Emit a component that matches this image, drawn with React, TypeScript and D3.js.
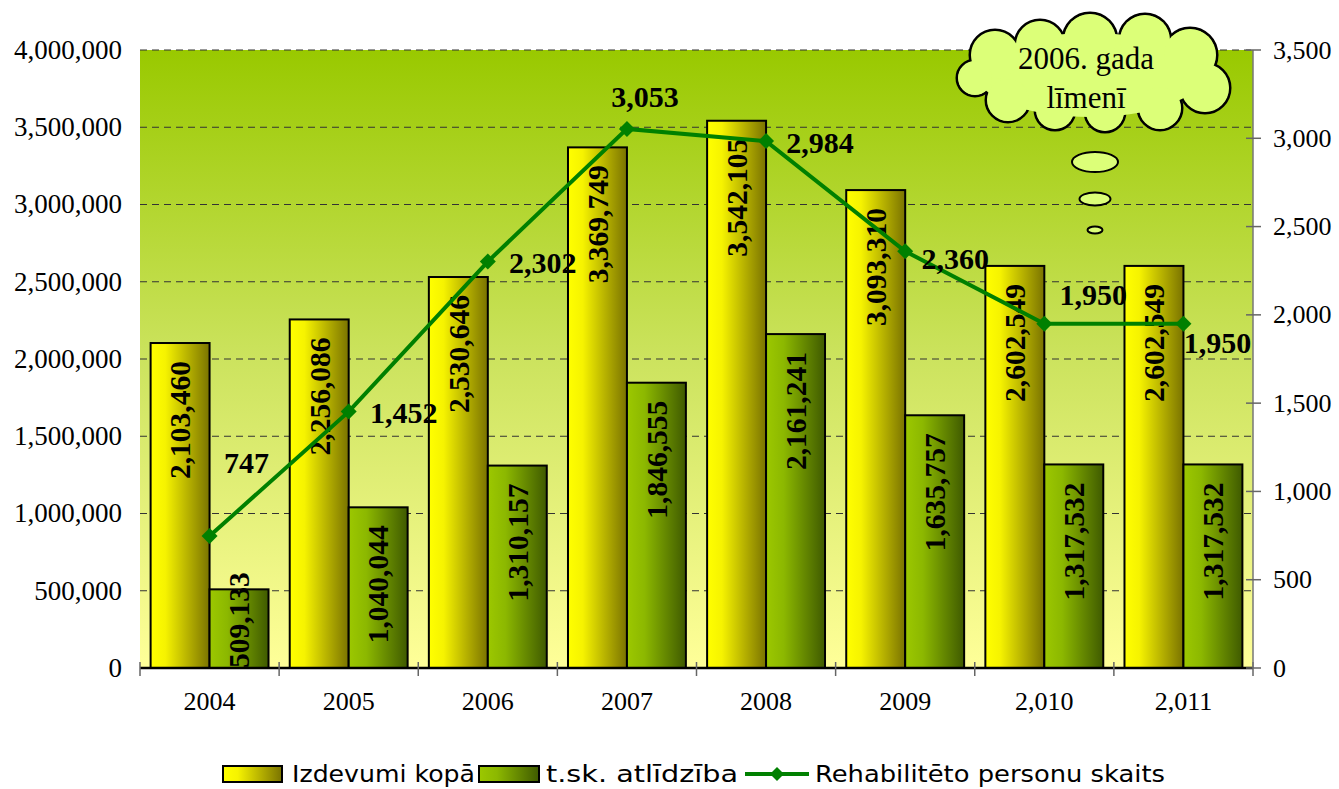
import React, { useEffect } from "react";
import * as d3 from "d3";

const years = ["2004", "2005", "2006", "2007", "2008", "2009", "2,010", "2,011"];
const izdevumi = [2103460, 2256086, 2530646, 3369749, 3542105, 3093310, 2602549, 2602549];
const atlidziba = [509133, 1040044, 1310157, 1846555, 2161241, 1635757, 1317532, 1317532];
const personas = [747, 1452, 2302, 3053, 2984, 2360, 1950, 1950];
const leftTicks = [0, 500000, 1000000, 1500000, 2000000, 2500000, 3000000, 3500000, 4000000];
const rightTicks = [0, 500, 1000, 1500, 2000, 2500, 3000, 3500];
const seriesNames = ["Izdevumi kopā", "t.sk. atlīdzība", "Rehabilitēto personu skaits"];
// label offsets relative to each line point (layout only)
const lineLabelOffsets: [number, number][] = [
  [37, -74], [55, 1], [55, 1], [18, -32], [54, 1], [50, 7], [49, -29], [34, 19],
];

const W = 1339, H = 789;
const M = { left: 140, right: 1253, top: 50, bottom: 668 };
const serif = "'Liberation Serif', 'Times New Roman', serif";
const sans = "'DejaVu Sans', sans-serif";

export default function App() {
  useEffect(() => {
    document.body.style.margin = "0";
  }, []);

  const x0 = d3.scaleBand<string>().domain(years).range([M.left, M.right]).padding(0);
  const x1 = d3.scaleBand<string>().domain(["a", "b"]).range([0, x0.bandwidth()]).paddingInner(0).paddingOuter(0.18);
  const yL = d3.scaleLinear().domain([0, 4000000]).range([M.bottom, M.top]);
  const yR = d3.scaleLinear().domain([0, 3500]).range([M.bottom, M.top]);
  const fmt = d3.format(",");

  const linePts: [number, number][] = personas.map((v, i) => [x0(years[i])! + x0.bandwidth() / 2, yR(v)]);
  const lineGen = d3.line();

  const barLabel = (v: number, xc: number, key: string) => {
    const top = yL(v);
    const len = 118;
    let anchorY = top + 18;
    let anchor: "end" | "start" = "end";
    if (anchorY + len > M.bottom) {
      anchorY = M.bottom;
      anchor = "start";
    }
    return (
      <text
        key={key}
        transform={`translate(${xc},${anchorY}) rotate(-90)`}
        textAnchor={anchor}
        dy="0.35em"
        fontFamily={serif}
        fontWeight="bold"
        fontSize={29.5}
        fill="#000"
      >
        {fmt(v)}
      </text>
    );
  };

  const cloudCircles: [number, number, number][] = [
    [995, 55, 25], [1040, 45, 25], [1090, 40, 27], [1145, 40, 26], [1190, 55, 27],
    [1205, 88, 25], [1160, 108, 22], [1105, 112, 20], [1055, 110, 20], [1008, 100, 22], [975, 78, 18],
  ];
  const cloudFill = "#dcff78";

  const diamond = (cx: number, cy: number, r: number) =>
    `M${cx},${cy - r}L${cx + r},${cy}L${cx},${cy + r}L${cx - r},${cy}Z`;

  return (
    <svg width={W} height={H} style={{ position: "absolute", left: 0, top: 0 }} xmlns="http://www.w3.org/2000/svg">
      <defs>
        <linearGradient id="bg" x1="0" y1="0" x2="0" y2="1">
          <stop offset="0" stopColor="#99c900" />
          <stop offset="0.5" stopColor="#cce35e" />
          <stop offset="1" stopColor="#ffff99" />
        </linearGradient>
        <linearGradient id="gy" x1="0" y1="0" x2="1" y2="0">
          <stop offset="0" stopColor="#ffff00" />
          <stop offset="0.25" stopColor="#f6f300" />
          <stop offset="1" stopColor="#7a7300" />
        </linearGradient>
        <linearGradient id="gg" x1="0" y1="0" x2="1" y2="0">
          <stop offset="0" stopColor="#9cc800" />
          <stop offset="0.3" stopColor="#8cb800" />
          <stop offset="1" stopColor="#3f5a00" />
        </linearGradient>
      </defs>
      <rect x={0} y={0} width={W} height={H} fill="#fff" />
      <rect x={M.left} y={M.top} width={M.right - M.left} height={M.bottom - M.top} fill="url(#bg)" />

      {/* gridlines */}
      {leftTicks.filter((t) => t > 0).map((t) => (
        <line key={t} x1={M.left} x2={M.right} y1={yL(t)} y2={yL(t)} stroke="#333" strokeWidth={1} strokeDasharray="7,5" />
      ))}

      {/* bars */}
      {years.map((yr, i) => {
        const gx = x0(yr)!;
        const xa = gx + x1("a")!;
        const xb = gx + x1("b")!;
        const bw = x1.bandwidth();
        return (
          <g key={yr}>
            <rect x={xa} y={yL(izdevumi[i])} width={bw} height={M.bottom - yL(izdevumi[i])} fill="url(#gy)" stroke="#000" strokeWidth={2} />
            <rect x={xb} y={yL(atlidziba[i])} width={bw} height={M.bottom - yL(atlidziba[i])} fill="url(#gg)" stroke="#000" strokeWidth={2} />
          </g>
        );
      })}
      {years.map((yr, i) => {
        const gx = x0(yr)!;
        const bw = x1.bandwidth();
        return (
          <g key={"l" + yr}>
            {barLabel(izdevumi[i], gx + x1("a")! + bw / 2, "a")}
            {barLabel(atlidziba[i], gx + x1("b")! + bw / 2, "b")}
          </g>
        );
      })}

      {/* bottom axis */}
      <line x1={M.left} x2={M.right} y1={M.bottom} y2={M.bottom} stroke="#000" strokeWidth={2.5} />
      {d3.range(years.length + 1).map((i) => {
        const xx = M.left + i * x0.step();
        return <line key={i} x1={xx} x2={xx} y1={M.bottom - 6} y2={M.bottom + 8} stroke="#666" strokeWidth={1.5} />;
      })}
      {years.map((yr) => (
        <text key={yr} x={x0(yr)! + x0.bandwidth() / 2} y={710} textAnchor="middle" fontFamily={serif} fontSize={26} fill="#000">
          {yr}
        </text>
      ))}

      {/* left axis labels */}
      {leftTicks.map((t) => (
        <text key={t} x={122} y={yL(t)} dy="0.33em" textAnchor="end" fontFamily={serif} fontSize={27} fill="#000">
          {fmt(t)}
        </text>
      ))}

      {/* right axis */}
      <line x1={M.right} x2={M.right} y1={M.top} y2={M.bottom} stroke="#777" strokeWidth={1.5} />
      {rightTicks.map((t) => (
        <g key={t}>
          <line x1={M.right - 7} x2={M.right + 8} y1={yR(t)} y2={yR(t)} stroke="#666" strokeWidth={1.5} />
          <text x={1273} y={yR(t)} dy="0.33em" textAnchor="start" fontFamily={serif} fontSize={26} fill="#000">
            {fmt(t)}
          </text>
        </g>
      ))}

      {/* line series */}
      <path d={lineGen(linePts) || ""} fill="none" stroke="#008000" strokeWidth={4} />
      {linePts.map(([px, py], i) => (
        <path key={i} d={diamond(px, py, 8)} fill="#008000" />
      ))}
      {linePts.map(([px, py], i) => {
        const [dx, dy] = lineLabelOffsets[i];
        return (
          <text key={"t" + i} x={px + dx} y={py + dy} dy="0.35em" textAnchor="middle" fontFamily={serif} fontWeight="bold" fontSize={30} fill="#000">
            {fmt(personas[i])}
          </text>
        );
      })}

      {/* cloud callout */}
      <g>
        {cloudCircles.map(([cx, cy, r], i) => (
          <circle key={"s" + i} cx={cx} cy={cy} r={r} fill={cloudFill} stroke="#000" strokeWidth={3} />
        ))}
        <ellipse cx={1090} cy={75} rx={112} ry={42} fill={cloudFill} />
        {cloudCircles.map(([cx, cy, r], i) => (
          <circle key={"f" + i} cx={cx} cy={cy} r={r - 1} fill={cloudFill} />
        ))}
        <ellipse cx={1095} cy={162} rx={23} ry={10} fill={cloudFill} stroke="#000" strokeWidth={2} />
        <ellipse cx={1095} cy={199} rx={15.5} ry={6.5} fill={cloudFill} stroke="#000" strokeWidth={2} />
        <ellipse cx={1095} cy={230} rx={7.5} ry={3.5} fill={cloudFill} stroke="#000" strokeWidth={2} />
        <text x={1086} y={69} textAnchor="middle" fontFamily={serif} fontSize={31} fill="#000">2006. gada</text>
        <text x={1086} y={108} textAnchor="middle" fontFamily={serif} fontSize={31} fill="#000">līmenī</text>
      </g>

      {/* legend */}
      <g fontFamily={sans} fontSize={23.5} fill="#000">
        <rect x={223} y={766} width={59} height={16} fill="url(#gy)" stroke="#000" strokeWidth={2} />
        <text x={292} y={782} textLength={183} lengthAdjust="spacingAndGlyphs">{seriesNames[0]}</text>
        <rect x={479} y={766} width={60} height={16} fill="url(#gg)" stroke="#000" strokeWidth={2} />
        <text x={546} y={782} textLength={192} lengthAdjust="spacingAndGlyphs">{seriesNames[1]}</text>
        <line x1={745} x2={809} y1={774} y2={774} stroke="#008000" strokeWidth={4} />
        <path d={diamond(777, 774, 7)} fill="#008000" />
        <text x={815} y={782} textLength={350} lengthAdjust="spacingAndGlyphs">{seriesNames[2]}</text>
      </g>
    </svg>
  );
}
